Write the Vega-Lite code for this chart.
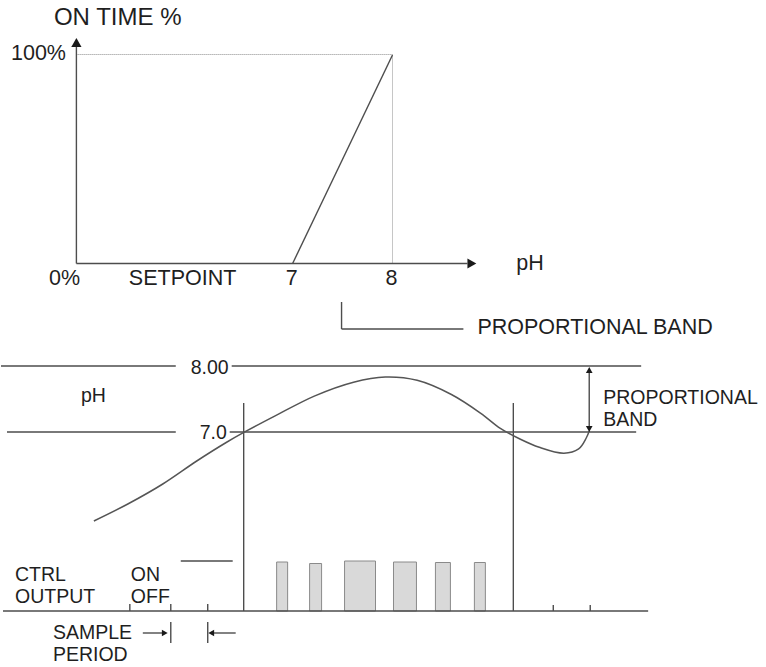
{
  "$schema": "https://vega.github.io/schema/vega-lite/v6.json",
  "width": 766,
  "height": 667,
  "padding": 0,
  "autosize": {"type": "fit", "contains": "padding"},
  "background": "white",
  "config": {"view": {"stroke": null}},
  "datasets": {
    "segments": [
      {"x": 75.5, "y": 263.5, "x2": 75.5, "y2": 45},
      {"x": 75.5, "y": 263.5, "x2": 467, "y2": 263.5},
      {"x": 292, "y": 263.5, "x2": 392, "y2": 55},
      {"x": 341, "y": 302, "x2": 341, "y2": 329},
      {"x": 341, "y": 329, "x2": 463, "y2": 329},
      {"x": 0, "y": 366, "x2": 175, "y2": 366},
      {"x": 231, "y": 366, "x2": 641, "y2": 366},
      {"x": 6, "y": 432, "x2": 175, "y2": 432},
      {"x": 229, "y": 432, "x2": 636, "y2": 432},
      {"x": 243, "y": 403, "x2": 243, "y2": 611},
      {"x": 513, "y": 403, "x2": 513, "y2": 611},
      {"x": 2, "y": 611, "x2": 648, "y2": 611},
      {"x": 129, "y": 604, "x2": 129, "y2": 611},
      {"x": 170, "y": 604, "x2": 170, "y2": 611},
      {"x": 207, "y": 604, "x2": 207, "y2": 611},
      {"x": 553, "y": 605, "x2": 553, "y2": 611},
      {"x": 590, "y": 605, "x2": 590, "y2": 611},
      {"x": 180, "y": 561, "x2": 232, "y2": 561},
      {"x": 170, "y": 622, "x2": 170, "y2": 643},
      {"x": 207, "y": 622, "x2": 207, "y2": 643},
      {"x": 142, "y": 633, "x2": 163, "y2": 633},
      {"x": 211, "y": 633, "x2": 235, "y2": 633},
      {"x": 589, "y": 370, "x2": 589, "y2": 429}
    ],
    "dotted": [
      {"x": 75.5, "y": 54.5, "x2": 392, "y2": 54.5},
      {"x": 392, "y": 54.5, "x2": 392, "y2": 263}
    ],
    "curve": [
      {"x": 93, "y": 521},
      {"x": 127, "y": 504},
      {"x": 162, "y": 484},
      {"x": 196, "y": 461},
      {"x": 225.5, "y": 442.5},
      {"x": 243.6, "y": 432.2},
      {"x": 274.5, "y": 415.9},
      {"x": 313.7, "y": 396.1},
      {"x": 353, "y": 382.2},
      {"x": 384.8, "y": 377},
      {"x": 416.7, "y": 380.3},
      {"x": 451, "y": 394.5},
      {"x": 480.4, "y": 413.3},
      {"x": 500, "y": 428.4},
      {"x": 519.6, "y": 439},
      {"x": 539, "y": 447.3},
      {"x": 563.7, "y": 453.2},
      {"x": 578.4, "y": 448.9},
      {"x": 586, "y": 438},
      {"x": 589, "y": 431}
    ],
    "bars": [
      {"x": 276, "x2": 287, "y": 562, "y2": 611},
      {"x": 309, "x2": 321, "y": 563.5, "y2": 611},
      {"x": 344, "x2": 375, "y": 561, "y2": 611},
      {"x": 393, "x2": 416, "y": 562, "y2": 611},
      {"x": 435, "x2": 450, "y": 562.5, "y2": 611},
      {"x": 474, "x2": 485, "y": 562.5, "y2": 611}
    ],
    "bigArrows": [
      {"x": 75.5, "y": 42.5, "dir": "up"},
      {"x": 471.5, "y": 263.5, "dir": "right"}
    ],
    "smallArrows": [
      {"x": 589, "y": 370, "dir": "up"},
      {"x": 589, "y": 429, "dir": "down"},
      {"x": 164, "y": 633, "dir": "right"},
      {"x": 210.5, "y": 633, "dir": "left"}
    ],
    "titleLabels": [
      {"x": 53, "y": 17.5, "text": "ON TIME %"}
    ],
    "topLabels": [
      {"x": 10, "y": 54, "text": "100%"},
      {"x": 48, "y": 279, "text": "0%"},
      {"x": 128, "y": 279, "text": "SETPOINT"},
      {"x": 285, "y": 279, "text": "7"},
      {"x": 385, "y": 279, "text": "8"},
      {"x": 516, "y": 264, "text": "pH"},
      {"x": 477, "y": 328, "text": "PROPORTIONAL BAND"}
    ],
    "bottomLabels": [
      {"x": 190, "y": 368, "text": "8.00"},
      {"x": 199, "y": 432.5, "text": "7.0"},
      {"x": 80, "y": 396, "text": "pH"},
      {"x": 603, "y": 398, "text": "PROPORTIONAL"},
      {"x": 603, "y": 419.5, "text": "BAND"},
      {"x": 14, "y": 575, "text": "CTRL"},
      {"x": 14, "y": 597, "text": "OUTPUT"},
      {"x": 130, "y": 575, "text": "ON"},
      {"x": 130, "y": 597, "text": "OFF"},
      {"x": 52, "y": 633, "text": "SAMPLE"},
      {"x": 52, "y": 655, "text": "PERIOD"}
    ]
  },
  "layer": [
    {
      "data": {"name": "bars"},
      "mark": {"type": "rect", "fill": "#d9d9d9", "stroke": "#8a8a8a", "strokeWidth": 1},
      "encoding": {
        "x": {"field": "x", "type": "quantitative", "scale": {"domain": [0, 766], "nice": false, "zero": false}, "axis": null},
        "x2": {"field": "x2"},
        "y": {"field": "y", "type": "quantitative", "scale": {"domain": [0, 667], "reverse": true, "nice": false, "zero": false}, "axis": null},
        "y2": {"field": "y2"}
      }
    },
    {
      "data": {"name": "dotted"},
      "mark": {"type": "rule", "stroke": "#8c8c8c", "strokeWidth": 1, "strokeDash": [1, 1]},
      "encoding": {
        "x": {"field": "x", "type": "quantitative", "scale": {"domain": [0, 766], "nice": false, "zero": false}, "axis": null},
        "x2": {"field": "x2"},
        "y": {"field": "y", "type": "quantitative", "scale": {"domain": [0, 667], "reverse": true, "nice": false, "zero": false}, "axis": null},
        "y2": {"field": "y2"}
      }
    },
    {
      "data": {"name": "segments"},
      "mark": {"type": "rule", "stroke": "#4d4d4d", "strokeWidth": 1.4},
      "encoding": {
        "x": {"field": "x", "type": "quantitative", "scale": {"domain": [0, 766], "nice": false, "zero": false}, "axis": null},
        "x2": {"field": "x2"},
        "y": {"field": "y", "type": "quantitative", "scale": {"domain": [0, 667], "reverse": true, "nice": false, "zero": false}, "axis": null},
        "y2": {"field": "y2"}
      }
    },
    {
      "data": {"name": "curve"},
      "mark": {"type": "line", "stroke": "#555555", "strokeWidth": 1.5, "interpolate": "catmull-rom"},
      "encoding": {
        "x": {"field": "x", "type": "quantitative", "scale": {"domain": [0, 766], "nice": false, "zero": false}, "axis": null},
        "y": {"field": "y", "type": "quantitative", "scale": {"domain": [0, 667], "reverse": true, "nice": false, "zero": false}, "axis": null}
      }
    },
    {
      "data": {"name": "bigArrows"},
      "mark": {"type": "point", "filled": true, "size": 105, "color": "#1a1a1a", "opacity": 1},
      "encoding": {
        "x": {"field": "x", "type": "quantitative", "scale": {"domain": [0, 766], "nice": false, "zero": false}, "axis": null},
        "y": {"field": "y", "type": "quantitative", "scale": {"domain": [0, 667], "reverse": true, "nice": false, "zero": false}, "axis": null},
        "shape": {"field": "dir", "type": "nominal", "legend": null, "scale": {"domain": ["up", "down", "left", "right"], "range": ["triangle-up", "triangle-down", "triangle-left", "triangle-right"]}}
      }
    },
    {
      "data": {"name": "smallArrows"},
      "mark": {"type": "point", "filled": true, "size": 45, "color": "#1a1a1a", "opacity": 1},
      "encoding": {
        "x": {"field": "x", "type": "quantitative", "scale": {"domain": [0, 766], "nice": false, "zero": false}, "axis": null},
        "y": {"field": "y", "type": "quantitative", "scale": {"domain": [0, 667], "reverse": true, "nice": false, "zero": false}, "axis": null},
        "shape": {"field": "dir", "type": "nominal", "legend": null, "scale": {"domain": ["up", "down", "left", "right"], "range": ["triangle-up", "triangle-down", "triangle-left", "triangle-right"]}}
      }
    },
    {
      "data": {"name": "titleLabels"},
      "mark": {"type": "text", "align": "left", "baseline": "middle", "font": "Liberation Sans", "fontSize": 24, "color": "#1f1f1f"},
      "encoding": {
        "x": {"field": "x", "type": "quantitative", "scale": {"domain": [0, 766], "nice": false, "zero": false}, "axis": null},
        "y": {"field": "y", "type": "quantitative", "scale": {"domain": [0, 667], "reverse": true, "nice": false, "zero": false}, "axis": null},
        "text": {"field": "text", "type": "nominal"}
      }
    },
    {
      "data": {"name": "topLabels"},
      "mark": {"type": "text", "align": "left", "baseline": "middle", "font": "Liberation Sans", "fontSize": 21.5, "color": "#1f1f1f"},
      "encoding": {
        "x": {"field": "x", "type": "quantitative", "scale": {"domain": [0, 766], "nice": false, "zero": false}, "axis": null},
        "y": {"field": "y", "type": "quantitative", "scale": {"domain": [0, 667], "reverse": true, "nice": false, "zero": false}, "axis": null},
        "text": {"field": "text", "type": "nominal"}
      }
    },
    {
      "data": {"name": "bottomLabels"},
      "mark": {"type": "text", "align": "left", "baseline": "middle", "font": "Liberation Sans", "fontSize": 19.5, "color": "#1f1f1f"},
      "encoding": {
        "x": {"field": "x", "type": "quantitative", "scale": {"domain": [0, 766], "nice": false, "zero": false}, "axis": null},
        "y": {"field": "y", "type": "quantitative", "scale": {"domain": [0, 667], "reverse": true, "nice": false, "zero": false}, "axis": null},
        "text": {"field": "text", "type": "nominal"}
      }
    }
  ]
}
